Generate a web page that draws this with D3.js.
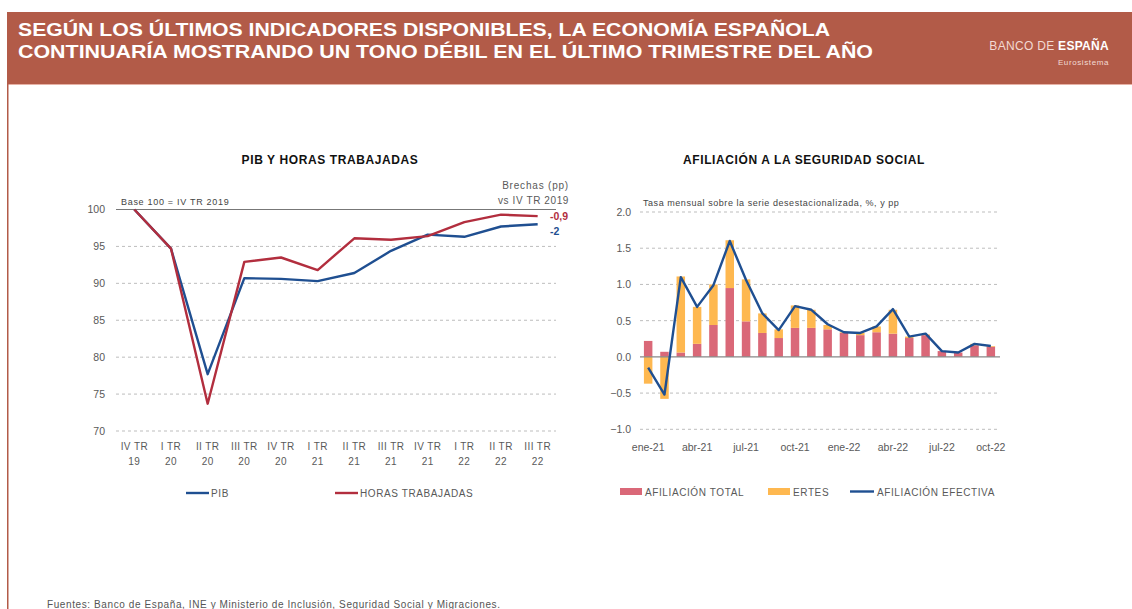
<!DOCTYPE html>
<html lang="es">
<head>
<meta charset="utf-8">
<script src="https://cdn.jsdelivr.net/npm/d3@7"></script>
<style>
  body { margin: 0; background: #fff; }
  svg { display: block; font-family: "Liberation Sans", Arial, Helvetica, sans-serif; }
  .tick text { fill: #595959; }
</style>
</head>
<body>
<main></main>
<script>
// Data: left chart (base 100 = IV TR 2019)
const quarters = ["IV TR 19", "I TR 20", "II TR 20", "III TR 20", "IV TR 20", "I TR 21",
  "II TR 21", "III TR 21", "IV TR 21", "I TR 22", "II TR 22", "III TR 22"];
const pib = [100, 94.7, 77.7, 90.7, 90.6, 90.3, 91.4, 94.4, 96.6, 96.3, 97.7, 98.0];
const horas = [100, 94.7, 73.7, 92.9, 93.5, 91.8, 96.1, 95.9, 96.4, 98.3, 99.3, 99.1];
const leftTicks = [70, 75, 80, 85, 90, 95, 100];

// Data: right chart (monthly rate, %, pp)
const months = ["ene-21", "feb-21", "mar-21", "abr-21", "may-21", "jun-21", "jul-21", "ago-21",
  "sep-21", "oct-21", "nov-21", "dic-21", "ene-22", "feb-22", "mar-22", "abr-22", "may-22",
  "jun-22", "jul-22", "ago-22", "sep-22", "oct-22"];
const afiliacionTotal = [0.22, 0.07, 0.06, 0.18, 0.44, 0.95, 0.49, 0.33, 0.26, 0.40, 0.40,
  0.38, 0.33, 0.30, 0.34, 0.32, 0.26, 0.30, 0.08, 0.06, 0.16, 0.14];
const ertes = [-0.37, -0.58, 1.05, 0.51, 0.56, 0.66, 0.58, 0.27, 0.12, 0.31, 0.25,
  0.06, 0.01, 0.03, 0.08, 0.33, 0.02, 0.01, 0.0, 0.0, 0.02, 0.01];
const afiliacionEfectiva = [-0.15, -0.52, 1.10, 0.69, 0.99, 1.60, 1.06, 0.60, 0.37, 0.70, 0.65,
  0.45, 0.34, 0.33, 0.42, 0.66, 0.28, 0.32, 0.08, 0.06, 0.18, 0.15];
const rightTicks = [-1, -0.5, 0, 0.5, 1, 1.5, 2];

// Colours
const brick = "#B25B48";
const blue = "#1F4F91";
const red = "#B22E3E";
const barRed = "#DA6878";
const barOrange = "#FEB850";
const grey = "#595959";

const width = 1132;
const height = 609;

const svg = d3
  .select("main")
  .append("svg")
  .attr("width", width)
  .attr("height", height);

svg.append("rect").attr("width", width).attr("height", height).attr("fill", "#fff");

// Header band + left border
svg.append("rect").attr("x", 7).attr("y", 12).attr("width", width - 7).attr("height", 72).attr("fill", brick);
svg.append("rect").attr("x", 7).attr("y", 84).attr("width", width - 7).attr("height", 1).attr("fill", "#E6B2A6");
svg.append("rect").attr("x", 7).attr("y", 84).attr("width", 1.5).attr("height", height - 84).attr("fill", brick);

const titleLines = [
  "SEGÚN LOS ÚLTIMOS INDICADORES DISPONIBLES, LA ECONOMÍA ESPAÑOLA",
  "CONTINUARÍA MOSTRANDO UN TONO DÉBIL EN EL ÚLTIMO TRIMESTRE DEL AÑO",
];
svg
  .selectAll(".title-line")
  .data(titleLines)
  .enter()
  .append("text")
  .attr("class", "title-line")
  .attr("x", 18)
  .attr("y", (d, i) => 36 + i * 21.5)
  .attr("fill", "#fff")
  .attr("font-size", 18)
  .attr("font-weight", "bold")
  .attr("textLength", (d, i) => (i === 0 ? 812 : 855))
  .attr("lengthAdjust", "spacingAndGlyphs")
  .text((d) => d);

const logo = svg.append("text").attr("x", 1109).attr("y", 50).attr("text-anchor", "end")
  .attr("font-size", 12).attr("letter-spacing", 0.3).attr("fill", "#fff");
logo.append("tspan").attr("font-weight", "300").attr("fill", "#F3DAD3").text("BANCO DE ");
logo.append("tspan").attr("font-weight", "bold").text("ESPAÑA");
svg.append("text").attr("x", 1109).attr("y", 65).attr("text-anchor", "end")
  .attr("font-size", 8).attr("letter-spacing", 0.6).attr("fill", "#F3DAD3").text("Eurosistema");

// ---------- Left chart: PIB y horas trabajadas ----------
const xLeft = d3.scaleBand().domain(quarters).range([116, 556]);
const yLeft = d3.scaleLinear().domain([70, 100]).range([431, 209.5]);

svg.append("text").attr("x", 330).attr("y", 164).attr("text-anchor", "middle")
  .attr("font-size", 12).attr("letter-spacing", 0.6).attr("font-weight", "bold").attr("fill", "#111")
  .text("PIB Y HORAS TRABAJADAS");

// Gridlines (dashed) and base-100 line (solid)
svg
  .append("g")
  .selectAll("line")
  .data(leftTicks)
  .enter()
  .append("line")
  .attr("x1", 116)
  .attr("x2", 556)
  .attr("y1", (d) => yLeft(d))
  .attr("y2", (d) => yLeft(d))
  .attr("stroke", (d) => (d === 100 ? "#777" : "#b5b5b5"))
  .attr("stroke-width", (d) => (d === 100 ? 1.2 : 0.9))
  .attr("stroke-dasharray", (d) => (d === 100 ? null : "3,3"));

// Y axis
const yLeftAxis = svg
  .append("g")
  .attr("transform", "translate(105,0)")
  .call(d3.axisLeft(yLeft).tickValues(leftTicks).tickSize(0).tickPadding(0))
  .attr("font-size", 10.5)
  .attr("font-family", null);
yLeftAxis.select(".domain").remove();

// X axis with two-line labels
const xLeftAxis = svg
  .append("g")
  .attr("transform", "translate(0,441)")
  .call(d3.axisBottom(xLeft).tickSize(0).tickPadding(0))
  .attr("font-size", 10)
  .attr("font-family", null);
xLeftAxis.select(".domain").remove();
xLeftAxis.selectAll(".tick text").attr("letter-spacing", 0.4).each(function (d) {
  const parts = d.split(" ");
  const t = d3.select(this).text(null).attr("dy", null).attr("y", 0);
  t.append("tspan").attr("x", 0).attr("y", 9).text(parts.slice(0, 2).join(" "));
  t.append("tspan").attr("x", 0).attr("y", 24).text(parts[2]);
});

const lineLeft = (values) =>
  d3.line()
    .x((d, i) => xLeft(quarters[i]) + xLeft.bandwidth() / 2)
    .y((d) => yLeft(d))(values);

svg.append("path").attr("d", lineLeft(pib)).attr("fill", "none").attr("stroke", blue)
  .attr("stroke-width", 2.4).attr("stroke-linejoin", "round");
svg.append("path").attr("d", lineLeft(horas)).attr("fill", "none").attr("stroke", red)
  .attr("stroke-width", 2.4).attr("stroke-linejoin", "round");

// Annotations
svg.append("text").attr("x", 121).attr("y", 205).attr("font-size", 9).attr("letter-spacing", 0.7)
  .attr("fill", "#444").text("Base 100 = IV TR 2019");
svg.append("text").attr("x", 569).attr("y", 189).attr("text-anchor", "end").attr("font-size", 10)
  .attr("letter-spacing", 0.8).attr("fill", grey).text("Brechas (pp)");
svg.append("text").attr("x", 569).attr("y", 204).attr("text-anchor", "end").attr("font-size", 10)
  .attr("letter-spacing", 0.6).attr("fill", grey).text("vs IV TR 2019");
svg.append("text").attr("x", 550).attr("y", 220).attr("font-size", 10.5).attr("fill", red)
  .attr("font-weight", "bold").text("-0,9");
svg.append("text").attr("x", 550).attr("y", 235).attr("font-size", 10.5).attr("fill", blue)
  .attr("font-weight", "bold").text("-2");

// Legend
const leftLegend = [
  { label: "PIB", color: blue, x: 186 },
  { label: "HORAS TRABAJADAS", color: red, x: 335 },
];
const ll = svg.append("g").selectAll("g").data(leftLegend).enter().append("g");
ll.append("line").attr("x1", (d) => d.x).attr("x2", (d) => d.x + 23).attr("y1", 493).attr("y2", 493)
  .attr("stroke", (d) => d.color).attr("stroke-width", 2.4);
ll.append("text").attr("x", (d) => d.x + 25).attr("y", 497).attr("font-size", 10)
  .attr("letter-spacing", 0.6).attr("fill", grey).text((d) => d.label);

// ---------- Right chart: afiliación a la Seguridad Social ----------
const xRight = d3.scaleBand().domain(months).range([640, 999]).paddingInner(0.48).paddingOuter(0.24);
const yRight = d3.scaleLinear().domain([-1, 2]).range([429.3, 212]);

svg.append("text").attr("x", 804).attr("y", 164).attr("text-anchor", "middle")
  .attr("font-size", 12).attr("letter-spacing", 0.6).attr("font-weight", "bold").attr("fill", "#111")
  .text("AFILIACIÓN A LA SEGURIDAD SOCIAL");

svg.append("text").attr("x", 643).attr("y", 206).attr("font-size", 9).attr("letter-spacing", 0.55)
  .attr("fill", "#444").text("Tasa mensual sobre la serie desestacionalizada, %, y pp");

svg
  .append("g")
  .selectAll("line")
  .data(rightTicks.filter((d) => d !== 0))
  .enter()
  .append("line")
  .attr("x1", 640)
  .attr("x2", 1000)
  .attr("y1", (d) => yRight(d))
  .attr("y2", (d) => yRight(d))
  .attr("stroke", "#b5b5b5")
  .attr("stroke-width", 0.9)
  .attr("stroke-dasharray", "3,3");

const yRightAxis = svg
  .append("g")
  .attr("transform", "translate(631,0)")
  .call(d3.axisLeft(yRight).tickValues(rightTicks).tickFormat(d3.format(".1f")).tickSize(0).tickPadding(0))
  .attr("font-size", 10.5)
  .attr("font-family", null);
yRightAxis.select(".domain").remove();

const xRightAxis = svg
  .append("g")
  .attr("transform", "translate(0,441)")
  .call(d3.axisBottom(xRight).tickValues(months.filter((d, i) => i % 3 === 0)).tickSize(0).tickPadding(0))
  .attr("font-size", 10.5)
  .attr("font-family", null);
xRightAxis.select(".domain").remove();
xRightAxis.selectAll(".tick text").attr("dy", null).attr("y", 9.5);

// Stacked bars (diverging)
const table = months.map((m, i) => ({ month: m, total: afiliacionTotal[i], ertes: ertes[i] }));
const series = d3.stack().keys(["total", "ertes"]).offset(d3.stackOffsetDiverging)(table);
const barColor = { total: barRed, ertes: barOrange };

svg
  .append("g")
  .selectAll("g")
  .data(series)
  .enter()
  .append("g")
  .attr("fill", (s) => barColor[s.key])
  .selectAll("rect")
  .data((s) => s)
  .enter()
  .append("rect")
  .attr("x", (d) => xRight(d.data.month))
  .attr("width", xRight.bandwidth())
  .attr("y", (d) => yRight(Math.max(d[0], d[1])))
  .attr("height", (d) => Math.abs(yRight(d[0]) - yRight(d[1])));

// Zero line
svg.append("line").attr("x1", 640).attr("x2", 1000).attr("y1", yRight(0)).attr("y2", yRight(0))
  .attr("stroke", "#888").attr("stroke-width", 1.2);

// Afiliación efectiva line
svg
  .append("path")
  .attr("d", d3.line()
    .x((d, i) => xRight(months[i]) + xRight.bandwidth() / 2)
    .y((d) => yRight(d))(afiliacionEfectiva))
  .attr("fill", "none")
  .attr("stroke", blue)
  .attr("stroke-width", 2.4)
  .attr("stroke-linejoin", "round");

// Legend
const rightLegend = [
  { label: "AFILIACIÓN TOTAL", color: barRed, x: 620, type: "rect" },
  { label: "ERTES", color: barOrange, x: 768, type: "rect" },
  { label: "AFILIACIÓN EFECTIVA", color: blue, x: 850, type: "line" },
];
const rl = svg.append("g").selectAll("g").data(rightLegend).enter().append("g");
rl.filter((d) => d.type === "rect").append("rect").attr("x", (d) => d.x).attr("y", 488)
  .attr("width", 22).attr("height", 7).attr("fill", (d) => d.color);
rl.filter((d) => d.type === "line").append("line").attr("x1", (d) => d.x).attr("x2", (d) => d.x + 24)
  .attr("y1", 491.5).attr("y2", 491.5).attr("stroke", (d) => d.color).attr("stroke-width", 2.4);
rl.append("text").attr("x", (d) => d.x + (d.type === "line" ? 27 : 25)).attr("y", 495.5)
  .attr("font-size", 10).attr("letter-spacing", 0.6).attr("fill", grey).text((d) => d.label);

// Footer
svg.append("text").attr("x", 47).attr("y", 608).attr("font-size", 10).attr("letter-spacing", 0.6)
  .attr("fill", "#555")
  .text("Fuentes: Banco de España, INE y Ministerio de Inclusión, Seguridad Social y Migraciones.");
</script>
</body>
</html>
